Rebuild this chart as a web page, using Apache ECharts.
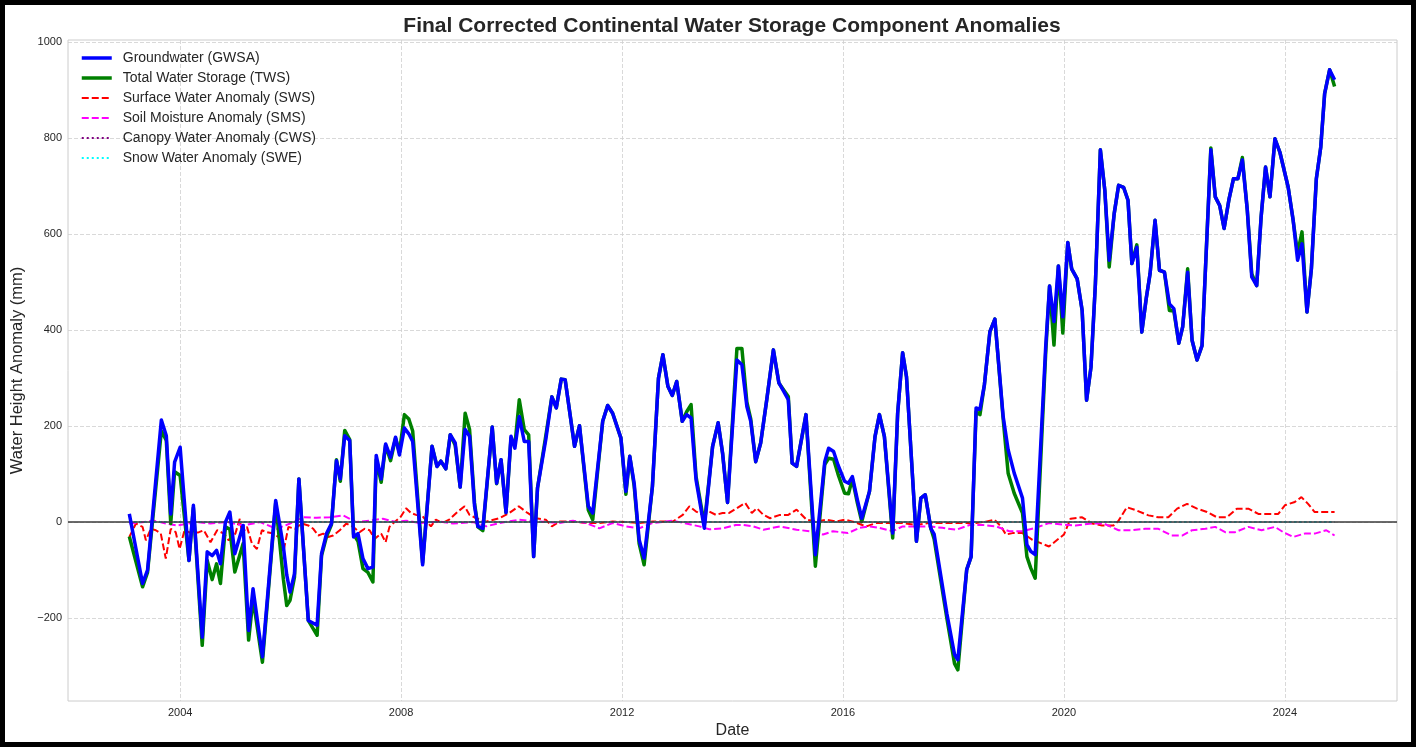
<!DOCTYPE html>
<html lang="en">
<head>
  <meta charset="UTF-8">
  <title>Continental Water Storage Component Anomalies</title>
  <style>
    html, body { margin: 0; padding: 0; background: #fff; }
    #chart { width: 1416px; height: 747px; }
  </style>
</head>
<body>
  <div id="chart"></div>
  <script src="https://cdn.jsdelivr.net/npm/echarts@6/dist/echarts.min.js"></script>
  <script>
// GWSA / TWS sampling dates (decimal years)
const gwsDates = [
  2003.08, 2003.32, 2003.41, 2003.66, 2003.75, 2003.83, 2003.90, 2004.00, 2004.16, 2004.24,
  2004.40, 2004.49, 2004.58, 2004.66, 2004.73, 2004.82, 2004.90, 2004.99, 2005.14, 2005.24,
  2005.32, 2005.49, 2005.73, 2005.87, 2005.93, 2005.99, 2006.07, 2006.15, 2006.32, 2006.48,
  2006.56, 2006.65, 2006.74, 2006.83, 2006.90, 2006.98, 2007.07, 2007.14, 2007.22, 2007.31,
  2007.40, 2007.49, 2007.55, 2007.64, 2007.72, 2007.81, 2007.90, 2007.97, 2008.06, 2008.14,
  2008.21, 2008.39, 2008.56, 2008.65, 2008.72, 2008.81, 2008.89, 2008.98, 2009.07, 2009.16,
  2009.24, 2009.33, 2009.39, 2009.48, 2009.65, 2009.73, 2009.81, 2009.90, 2009.99, 2010.06,
  2010.14, 2010.23, 2010.31, 2010.40, 2010.47, 2010.62, 2010.73, 2010.81, 2010.90, 2010.97,
  2011.14, 2011.23, 2011.39, 2011.47, 2011.65, 2011.74, 2011.83, 2011.98, 2012.07, 2012.14,
  2012.22, 2012.31, 2012.40, 2012.55, 2012.66, 2012.74, 2012.83, 2012.91, 2012.99, 2013.09,
  2013.17, 2013.25, 2013.34, 2013.49, 2013.64, 2013.74, 2013.82, 2013.91, 2014.08, 2014.17,
  2014.26, 2014.33, 2014.42, 2014.51, 2014.62, 2014.74, 2014.84, 2014.93, 2015.01, 2015.08,
  2015.16, 2015.33, 2015.50, 2015.67, 2015.74, 2015.83, 2015.91, 2016.03, 2016.10, 2016.17,
  2016.26, 2016.34, 2016.48, 2016.58, 2016.66, 2016.75, 2016.90, 2016.99, 2017.08, 2017.15,
  2017.33, 2017.41, 2017.49, 2017.59, 2017.65, 2017.88, 2018.02, 2018.08, 2018.24, 2018.32,
  2018.41, 2018.48, 2018.56, 2018.66, 2018.75, 2018.90, 2018.99, 2019.10, 2019.25, 2019.33,
  2019.40, 2019.48, 2019.67, 2019.74, 2019.82, 2019.90, 2019.98, 2020.07, 2020.14, 2020.24,
  2020.33, 2020.41, 2020.49, 2020.57, 2020.66, 2020.74, 2020.82, 2020.91, 2020.99, 2021.08,
  2021.16, 2021.23, 2021.32, 2021.41, 2021.49, 2021.56, 2021.65, 2021.73, 2021.82, 2021.91,
  2021.99, 2022.08, 2022.15, 2022.24, 2022.32, 2022.41, 2022.50, 2022.66, 2022.74, 2022.82,
  2022.90, 2022.99, 2023.07, 2023.15, 2023.23, 2023.32, 2023.40, 2023.49, 2023.57, 2023.65,
  2023.73, 2023.82, 2023.91, 2024.06, 2024.15, 2024.23, 2024.31, 2024.40, 2024.48, 2024.57,
  2024.65, 2024.72, 2024.81, 2024.90
];

// Groundwater storage anomaly (mm)
const gwsaValues = [
  17, -128, -100, 213, 180, 17, 125, 156, -80, 35,
  -240, -62, -70, -59, -87, 0, 21, -66, -7, -226,
  -139, -281, 45, -52, -110, -146, -108, 90, -205, -215,
  -66, -24, -3, 128, 90, 180, 170, -31, -24, -76,
  -97, -94, 139, 90, 163, 135, 177, 140, 196, 184,
  168, -89, 158, 116, 127, 111, 182, 165, 73, 193,
  179, 33, -9, -13, 198, 81, 130, 20, 179, 154,
  220, 168, 168, -72, 71, 172, 261, 238, 298, 297,
  158, 201, 33, 19, 210, 243, 227, 175, 64, 137,
  81, -37, -75, 74, 300, 349, 283, 264, 293, 210,
  224, 217, 88, -13, 158, 207, 144, 41, 338, 328,
  241, 210, 126, 165, 255, 359, 290, 272, 255, 123,
  116, 224, -68, 126, 154, 147, 119, 85, 81, 95,
  47, 8, 64, 178, 224, 178, -23, 227, 353, 303,
  -40, 50, 57, -13, -25, -190, -276, -287, -99, -72,
  238, 235, 286, 397, 423, 220, 151, 102, 50, -47,
  -61, -68, 366, 492, 418, 534, 428, 583, 528, 507,
  441, 254, 323, 497, 776, 692, 546, 643, 702, 698,
  671, 539, 573, 396, 466, 518, 629, 525, 521, 455,
  445, 373, 407, 521, 379, 338, 368, 776, 678, 660,
  612, 674, 716, 716, 755, 650, 511, 493, 636, 740,
  678, 799, 771, 698, 629, 546, 580, 438, 528, 716,
  782, 893, 943, 922
];

// Total water storage anomaly (mm)
const twsValues = [
  -30, -135, -105, 190, 170, -3, 105, 97, -80, 30,
  -257, -80, -120, -87, -128, -10, -15, -104, -45, -246,
  -160, -292, 40, -120, -174, -163, -115, 90, -205, -236,
  -70, -30, -5, 130, 85, 191, 172, -25, -40, -97,
  -105, -125, 130, 83, 160, 128, 175, 145, 224, 215,
  190, -85, 158, 116, 127, 111, 182, 160, 73, 227,
  193, 40, -10, -18, 198, 80, 130, 20, 175, 160,
  255, 193, 182, -72, 71, 180, 261, 238, 298, 297,
  158, 201, 25, 5, 210, 243, 227, 175, 58, 137,
  75, -45, -89, 74, 300, 349, 283, 264, 293, 210,
  230, 245, 95, -5, 158, 207, 144, 41, 362, 362,
  250, 215, 126, 165, 255, 359, 290, 275, 262, 123,
  116, 224, -92, 120, 133, 131, 100, 60, 59, 90,
  40, 1, 64, 178, 224, 178, -33, 227, 353, 303,
  -40, 50, 57, -13, -35, -200, -295, -308, -99, -72,
  230, 224, 286, 397, 423, 215, 102, 60, 19, -72,
  -96, -117, 352, 492, 369, 534, 394, 583, 528, 507,
  441, 254, 323, 497, 776, 692, 532, 643, 702, 698,
  671, 539, 578, 396, 466, 518, 629, 525, 521, 441,
  440, 373, 407, 528, 379, 338, 368, 780, 678, 660,
  612, 674, 716, 716, 760, 650, 518, 493, 636, 740,
  678, 799, 771, 698, 629, 560, 605, 438, 528, 716,
  782, 893, 943, 908
];

// Surface water anomaly (mm)
const swsDates = [
  2003.08, 2003.20, 2003.32, 2003.38, 2003.47, 2003.56, 2003.65, 2003.74, 2003.83, 2003.92,
  2003.99, 2004.08, 2004.22, 2004.34, 2004.43, 2004.55, 2004.67, 2004.79, 2004.88, 2005.00,
  2005.08, 2005.12, 2005.21, 2005.30, 2005.39, 2005.48, 2005.57, 2005.69, 2005.78, 2005.87,
  2005.96, 2006.08, 2006.20, 2006.32, 2006.41, 2006.50, 2006.59, 2006.68, 2006.77, 2006.89,
  2007.01, 2007.13, 2007.25, 2007.34, 2007.43, 2007.52, 2007.64, 2007.72, 2007.79, 2007.91,
  2008.00, 2008.09, 2008.18, 2008.27, 2008.39, 2008.54, 2008.63, 2008.75, 2008.87, 2009.03,
  2009.15, 2009.24, 2009.36, 2009.54, 2009.78, 2009.96, 2010.13, 2010.29, 2010.44, 2010.62,
  2010.73, 2010.87, 2011.11, 2011.35, 2011.59, 2011.83, 2012.07, 2012.31, 2012.55, 2012.92,
  2013.10, 2013.22, 2013.34, 2013.46, 2013.58, 2013.70, 2013.82, 2013.94, 2014.08, 2014.23,
  2014.35, 2014.44, 2014.56, 2014.68, 2014.86, 2015.01, 2015.16, 2015.34, 2015.52, 2015.70,
  2015.88, 2016.03, 2016.18, 2016.42, 2016.60, 2016.84, 2017.08, 2017.32, 2017.56, 2017.86,
  2018.17, 2018.41, 2018.59, 2018.74, 2018.86, 2018.95, 2019.07, 2019.25, 2019.43, 2019.58,
  2019.73, 2019.88, 2020.00, 2020.12, 2020.33, 2020.51, 2020.69, 2020.90, 2020.99, 2021.14,
  2021.32, 2021.53, 2021.71, 2021.89, 2022.05, 2022.23, 2022.41, 2022.59, 2022.77, 2022.95,
  2023.13, 2023.34, 2023.52, 2023.70, 2023.88, 2024.00, 2024.18, 2024.30, 2024.42, 2024.54,
  2024.72, 2024.90
];
const swsValues = [
  -31, -3, -10, -38, -14, -17, -24, -76, -14, -21,
  -56, -17, -24, -21, -17, -42, -17, -24, -38, -24,
  7, -24, -10, -45, -56, -17, -21, -24, -31, -62,
  -10, -14, -3, -7, -14, -28, -24, -31, -28, -17,
  -3, -10, -21, -14, -17, -35, -24, -42, -10, 3,
  12, 29, 19, 15, 12, -9, 5, -2, 5, 22,
  33, 15, 8, 1, 8, 19, 33, 19, 8, 5,
  -9, 1, 1, -2, -2, 1, 0, -2, 1, 1,
  15, 33, 22, 15, 22, 15, 19, 19, 29, 40,
  19, 29, 15, 8, 15, 15, 26, 5, 1, 5,
  1, 5, 1, -9, -2, -2, -2, -6, -2, -2,
  -2, -2, 1, 5, -9, -26, -23, -23, -37, -44,
  -51, -37, -26, 7, 10, -3, -7, -7, 3, 31,
  24, 14, 10, 10, 28, 38, 28, 21, 10, 10,
  28, 28, 17, 17, 17, 35, 42, 52, 38, 21,
  21, 21
];

// Soil moisture anomaly (mm)
const smsDates = [
  2003.08, 2003.35, 2003.53, 2003.74, 2003.95, 2004.31, 2004.55, 2004.85, 2005.15, 2005.45,
  2005.75, 2005.99, 2006.23, 2006.47, 2006.71, 2006.95, 2007.19, 2007.43, 2007.67, 2007.91,
  2008.09, 2008.33, 2008.69, 2008.94, 2009.30, 2009.54, 2009.78, 2010.14, 2010.50, 2010.87,
  2011.11, 2011.35, 2011.59, 2011.83, 2012.07, 2012.31, 2012.55, 2012.92, 2013.16, 2013.40,
  2013.58, 2013.82, 2014.06, 2014.20, 2014.38, 2014.56, 2014.86, 2015.16, 2015.40, 2015.64,
  2015.82, 2016.09, 2016.30, 2016.48, 2016.66, 2016.90, 2017.08, 2017.32, 2017.56, 2017.80,
  2018.05, 2018.29, 2018.53, 2018.77, 2019.01, 2019.25, 2019.49, 2019.73, 2019.97, 2020.21,
  2020.51, 2020.72, 2020.99, 2021.23, 2021.47, 2021.71, 2021.95, 2022.14, 2022.32, 2022.56,
  2022.74, 2022.92, 2023.10, 2023.34, 2023.58, 2023.82, 2023.97, 2024.15, 2024.36, 2024.54,
  2024.75, 2024.90
];
const smsValues = [
  -3, 0, 3, -3, -7, 0, -3, 0, -7, 0,
  -14, -3, 10, 9, 10, 14, 0, 3, 7, 0,
  3, -2, 1, -3, 0, -9, -2, 5, 1, -2,
  3, -2, -13, -2, -9, -13, -2, 3, -3, -9,
  -15, -13, -6, -6, -9, -16, -9, -16, -19, -26,
  -19, -23, -12, -9, -12, -19, -9, -9, -9, -12,
  -16, -6, -6, -9, -19, -19, -12, -2, -5, -7,
  -3, -3, -17, -17, -14, -14, -28, -28, -17, -14,
  -10, -21, -21, -10, -17, -10, -21, -31, -24, -24,
  -17, -28
];

// Canopy and snow anomalies stay flat at zero
const flatDates = [2003.08, 2008.0, 2012.0, 2016.0, 2020.0, 2024.90];
const cwsValues = [0, 0, 0, 0, 0, 0];
const sweValues = [0, 0, 0, 0, 0, 0];

const yearTicks = [2004, 2008, 2012, 2016, 2020, 2024];
const mmTicks = [-200, 0, 200, 400, 600, 800, 1000];

function pairs(dates, values) {
  return dates.map((d, i) => [d, values[i]]);
}

const chart = echarts.init(document.getElementById('chart'));
const font = '"Liberation Sans", Arial, sans-serif';
const gridColor = '#cfcfcf';

chart.setOption({
  animation: false,
  backgroundColor: '#fff',
  textStyle: { fontFamily: font },
  graphic: [
    {
      type: 'rect', silent: true, z: 100,
      shape: { x: 2.5, y: 2.5, width: 1411, height: 742 },
      style: { fill: 'none', stroke: '#000', lineWidth: 5 }
    },
    {
      type: 'text', x: 732, y: 26, z: 100,
      style: {
        text: 'Final Corrected Continental Water Storage Component Anomalies',
        font: 'bold 21px ' + font, fill: '#262626',
        align: 'center', verticalAlign: 'middle'
      }
    }
  ],
  legend: {
    orient: 'vertical',
    left: 80, top: 51,
    padding: 0,
    itemWidth: 30, itemHeight: 14, itemGap: 6,
    itemStyle: { opacity: 0, borderWidth: 0 },
    lineStyle: { width: 'inherit' },
    textStyle: { fontSize: 14, color: '#262626', padding: [0, 0, 0, 6] },
    data: [
      'Groundwater (GWSA)', 'Total Water Storage (TWS)', 'Surface Water Anomaly (SWS)',
      'Soil Moisture Anomaly (SMS)', 'Canopy Water Anomaly (CWS)', 'Snow Water Anomaly (SWE)'
    ]
  },
  grid: {
    left: 68, right: 19, top: 40, bottom: 46,
    show: true, borderColor: '#cccccc', borderWidth: 1
  },
  xAxis: {
    type: 'value', min: 2001.97, max: 2026.03,
    name: 'Date', nameLocation: 'middle', nameGap: 22,
    nameTextStyle: { fontSize: 16, color: '#262626' },
    axisLine: { show: false }, axisTick: { show: false, customValues: yearTicks },
    axisLabel: { customValues: yearTicks, fontSize: 11, color: '#262626', margin: 6,
      formatter: v => String(Math.round(v)) },
    splitLine: { show: true, lineStyle: { color: gridColor, type: [4, 2], width: 0.8 } }
  },
  yAxis: {
    type: 'value', min: -373, max: 1005,
    name: 'Water Height Anomaly (mm)', nameLocation: 'middle', nameGap: 34,
    nameTextStyle: { fontSize: 16.5, color: '#262626' },
    axisLine: { show: false }, axisTick: { show: false, customValues: mmTicks },
    axisLabel: { customValues: mmTicks, fontSize: 11, color: '#262626', margin: 6,
      formatter: v => (v < 0 ? '\u2212' + Math.abs(v) : String(v)) },
    splitLine: { show: true, lineStyle: { color: gridColor, type: [4, 2], width: 0.8 } }
  },
  series: [
    {
      name: 'Groundwater (GWSA)', type: 'line', z: 5, symbol: 'none',
      data: pairs(gwsDates, gwsaValues),
      lineStyle: { color: '#0000ff', width: 3.5, join: 'round' },
      itemStyle: { color: '#0000ff' }
    },
    {
      name: 'Total Water Storage (TWS)', type: 'line', z: 4, symbol: 'none',
      data: pairs(gwsDates, twsValues),
      lineStyle: { color: '#008000', width: 3.5, join: 'round' },
      itemStyle: { color: '#008000' }
    },
    {
      name: 'Surface Water Anomaly (SWS)', type: 'line', z: 3, symbol: 'none',
      data: pairs(swsDates, swsValues),
      lineStyle: { color: '#ff0000', width: 2, type: [7, 3] },
      itemStyle: { color: '#ff0000' },
      markLine: {
        silent: true, symbol: 'none', label: { show: false },
        lineStyle: { color: '#3a3a3a', width: 1.5, type: 'solid' },
        data: [{ yAxis: 0 }]
      }
    },
    {
      name: 'Soil Moisture Anomaly (SMS)', type: 'line', z: 3, symbol: 'none',
      data: pairs(smsDates, smsValues),
      lineStyle: { color: '#ff00ff', width: 2, type: [7, 3] },
      itemStyle: { color: '#ff00ff' }
    },
    {
      name: 'Canopy Water Anomaly (CWS)', type: 'line', z: 3, symbol: 'none',
      data: pairs(flatDates, cwsValues),
      lineStyle: { color: '#800080', width: 2, type: [2, 3] },
      itemStyle: { color: '#800080' }
    },
    {
      name: 'Snow Water Anomaly (SWE)', type: 'line', z: 3, symbol: 'none',
      data: pairs(flatDates, sweValues),
      lineStyle: { color: '#00ffff', width: 2, type: [2, 3] },
      itemStyle: { color: '#00ffff' }
    }
  ]
});
  </script>
</body>
</html>
